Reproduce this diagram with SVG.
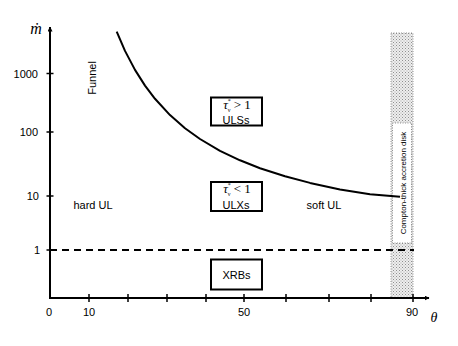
<svg xmlns="http://www.w3.org/2000/svg" width="458" height="346" viewBox="0 0 458 346">
<style>
.lbl{font-family:"Liberation Sans",Arial,sans-serif;font-size:11px;fill:#000}
.math{font-family:"Liberation Serif","DejaVu Serif",serif;fill:#000}
.box{fill:#fff;stroke:#000;stroke-width:2}
.axis{stroke:#000;stroke-width:2;fill:none}
.tick{stroke:#000;stroke-width:1.5}
</style>
<defs>
<pattern id="stip" width="3" height="3" patternUnits="userSpaceOnUse">
<rect width="3" height="3" fill="#eeeeee"/>
<rect x="0" y="0" width="1" height="1" fill="#909090"/>
<rect x="1.5" y="1.5" width="1" height="1" fill="#a8a8a8"/>
</pattern>
<marker id="arr" viewBox="0 0 10 10" refX="9" refY="5" markerWidth="5" markerHeight="5" orient="auto" markerUnits="userSpaceOnUse">
<path d="M0,0 L10,5 L0,10 z" fill="#000"/>
</marker>
</defs>
<g id="strip">
<rect x="391" y="33" width="22" height="265" fill="url(#stip)" stroke="#777" stroke-width="0.8" stroke-dasharray="1 1.5"/>
<rect x="392.5" y="123" width="19" height="120" fill="#fff" stroke="#777" stroke-width="0.8" stroke-dasharray="1 1.5"/>
<text class="lbl" style="font-size:8px" transform="translate(405.5,183) rotate(-90)" text-anchor="middle">Compton-thick accretion  disk</text>
</g>
<g id="axes">
<line class="axis" x1="50" y1="298" x2="50" y2="27" marker-end="url(#arr)"/>
<line class="axis" x1="49" y1="298" x2="429" y2="298" marker-end="url(#arr)"/>
<g class="tick">
<line x1="46.5" y1="73.5" x2="53.5" y2="73.5"/>
<line x1="46.5" y1="132" x2="53.5" y2="132"/>
<line x1="46.5" y1="196" x2="53.5" y2="196"/>
<line x1="46.5" y1="250" x2="53.5" y2="250"/>
<line x1="89" y1="294" x2="89" y2="302"/>
<line x1="128" y1="294" x2="128" y2="302"/>
<line x1="167" y1="294" x2="167" y2="302"/>
<line x1="206" y1="294" x2="206" y2="302"/>
<line x1="244" y1="294" x2="244" y2="302"/>
<line x1="286" y1="294" x2="286" y2="302"/>
<line x1="329" y1="294" x2="329" y2="302"/>
<line x1="371" y1="294" x2="371" y2="302"/>
<line x1="413" y1="294" x2="413" y2="302"/>
</g>
<text class="math" x="36" y="34" font-size="16" font-style="italic" text-anchor="middle">ṁ</text>
<text class="lbl" x="38" y="77.5" text-anchor="end">1000</text>
<text class="lbl" x="38" y="136" text-anchor="end">100</text>
<text class="lbl" x="39" y="200" text-anchor="end">10</text>
<text class="lbl" x="40" y="254" text-anchor="end">1</text>
<text class="lbl" x="49" y="316" text-anchor="middle">0</text>
<text class="lbl" x="89" y="316" text-anchor="middle">10</text>
<text class="lbl" x="244" y="316" text-anchor="middle">50</text>
<text class="lbl" x="412" y="316" text-anchor="middle">90</text>
<text class="math" x="434" y="322" font-size="14" font-style="italic" text-anchor="middle">θ</text>
</g>
<g id="connectors">
<path d="M116.7,31.7 L125,50.9 L135,69.9 L145,85.6 L155,98.8 L170,115.1 L185,128.2 L200,139 L220,150.8 L240,160.3 L260,168.2 L285,176.3 L310,182.9 L340,189.5 L370,194.2 L400,196.8" fill="none" stroke="#000" stroke-width="2" stroke-linejoin="round"/>
<line x1="50" y1="250" x2="414" y2="250" stroke="#000" stroke-width="2" stroke-dasharray="7 5"/>
</g>
<g id="funnel"><text class="lbl" transform="translate(96,78) rotate(-90)" text-anchor="middle">Funnel</text></g>
<g id="hardUL"><text class="lbl" x="93" y="209" text-anchor="middle">hard UL</text></g>
<g id="softUL"><text class="lbl" x="324" y="209" text-anchor="middle">soft UL</text></g>
<g id="ULSs">
<rect class="box" x="211" y="97.5" width="51" height="28"/>
<text class="math" x="237" y="108.5" font-size="13" text-anchor="middle"><tspan font-style="italic">τ</tspan><tspan font-size="6" dy="-6">*</tspan><tspan font-size="6" dx="-3" dy="9">ν</tspan><tspan dy="-3"> &gt; 1</tspan></text>
<text class="lbl" x="236" y="123.5" text-anchor="middle">ULSs</text>
</g>
<g id="ULXs">
<rect class="box" x="211" y="182" width="51" height="29"/>
<text class="math" x="237" y="193" font-size="13" text-anchor="middle"><tspan font-style="italic">τ</tspan><tspan font-size="6" dy="-6">*</tspan><tspan font-size="6" dx="-3" dy="9">ν</tspan><tspan dy="-3"> &lt; 1</tspan></text>
<text class="lbl" x="236" y="208.5" text-anchor="middle">ULXs</text>
</g>
<g id="XRBs">
<rect class="box" x="211" y="259.5" width="51" height="30"/>
<text class="lbl" x="236.5" y="279" text-anchor="middle">XRBs</text>
</g>
</svg>
